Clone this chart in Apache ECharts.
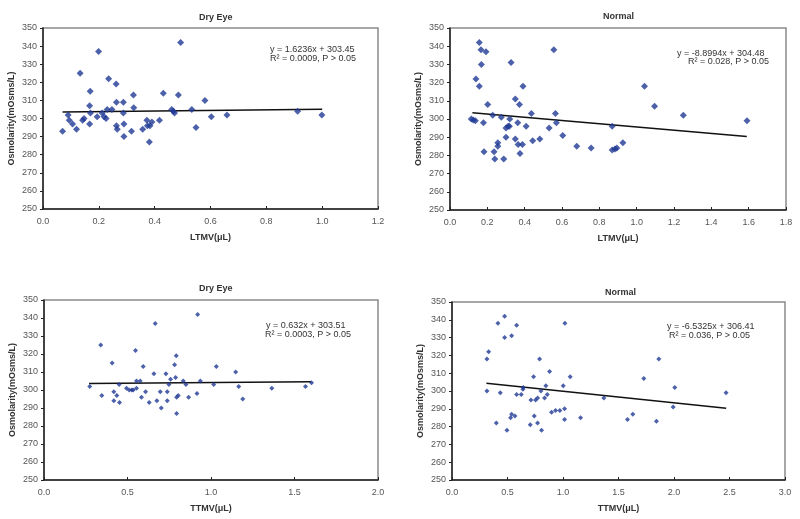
<!DOCTYPE html>
<html><head><meta charset="utf-8">
<script src="https://cdn.jsdelivr.net/npm/echarts@6/dist/echarts.min.js"></script>
<style>html,body{margin:0;padding:0;background:#fff}#c{width:800px;height:519px}</style>
</head><body><div id="c"></div>
<script>
// Panel 1: Dry Eye, LTMV
const dryLTMV_x = [0.07,0.09,0.094,0.106,0.12,0.133,0.142,0.147,0.167,0.169,0.167,0.17,0.194,0.199,0.212,0.219,0.226,0.23,0.235,0.247,0.262,0.263,0.263,0.266,0.288,0.288,0.29,0.29,0.317,0.324,0.325,0.357,0.372,0.374,0.381,0.383,0.39,0.417,0.431,0.461,0.467,0.471,0.485,0.493,0.533,0.548,0.58,0.603,0.659,0.912,0.999];
const dryLTMV_y = [293,302,299,297,294,325,299,300,297,315,307,303,301,337,303,301,300,305,322,305,319,309,296,294,309,303,297,290,293,313,306,294,299,296,287,296,298,299,314,305,304,303,313,342,305,295,310,301,302,304,302];
const dryLTMV_fit = [[0.07,303.56],[1.0,305.07]];
const dryLTMV_eq = ["y = 1.6236x + 303.45","R² = 0.0009, P > 0.05"];

// Panel 2: Normal, LTMV
const norLTMV_x = [0.114,0.125,0.136,0.139,0.157,0.157,0.166,0.168,0.179,0.182,0.193,0.202,0.229,0.236,0.24,0.256,0.256,0.275,0.288,0.3,0.3,0.311,0.318,0.32,0.327,0.35,0.35,0.363,0.365,0.372,0.375,0.388,0.391,0.408,0.436,0.443,0.481,0.531,0.556,0.565,0.57,0.604,0.679,0.756,0.869,0.869,0.884,0.894,0.926,1.042,1.096,1.25,1.591];
const norLTMV_y = [300,299.5,299,322,342,318,338,330,298,282,337,308,302,282,278,287,285,301,278,290,295,296,296,300,331,311,289,298,286,308,281,286,318,296,303,288,289,295,338,303,298,291,285,284,296,283,283.5,284,287,318,307,302,299];
const norLTMV_fit = [[0.12,303.41],[1.59,290.33]];
const norLTMV_eq = ["y = -8.8994x + 304.48","R² = 0.028, P > 0.05"];

// Panel 3: Dry Eye, TTMV
const dryTTMV_x = [0.274,0.34,0.346,0.408,0.418,0.418,0.436,0.45,0.452,0.494,0.51,0.526,0.534,0.548,0.554,0.554,0.576,0.584,0.594,0.608,0.63,0.658,0.666,0.676,0.696,0.702,0.73,0.738,0.738,0.748,0.758,0.782,0.788,0.792,0.794,0.794,0.804,0.834,0.85,0.866,0.916,0.92,0.936,1.016,1.032,1.148,1.166,1.19,1.364,1.566,1.602];
const dryTTMV_y = [302,325,297,315,299,294,297,303,293,301,300,300,300,322,305,301,305,296,313,299,293,309,337,294,299,290,309,299,294,303,306,314,307,319,296,287,297,305,303,296,298,342,305,303,313,310,302,295,301,302,304];
const dryTTMV_fit = [[0.27,303.68],[1.60,304.52]];
const dryTTMV_eq = ["y = 0.632x + 303.51","R² = 0.0003, P > 0.05"];

// Panel 4: Normal, TTMV
const norTTMV_x = [0.315,0.315,0.33,0.399,0.414,0.435,0.474,0.474,0.495,0.537,0.537,0.528,0.567,0.582,0.582,0.624,0.639,0.642,0.705,0.711,0.735,0.741,0.753,0.771,0.771,0.789,0.801,0.807,0.834,0.846,0.858,0.879,0.897,0.933,0.972,1.002,1.014,1.014,1.017,1.065,1.158,1.368,1.581,1.629,1.728,1.842,1.863,1.992,2.007,2.469];
const norTTMV_y = [318,300,322,282,338,299,342,330,278,331,287,285,286,337,298,298,301,302,281,295,308,286,295,282,296,318,300,278,296,303,298,311,288,289,289,303,290,284,338,308,285,296,284,287,307,283,318,291,302,299];
const norTTMV_fit = [[0.31,304.39],[2.47,290.27]];
const norTTMV_eq = ["y = -6.5325x + 306.41","R² = 0.036, P > 0.05"];

const titles = ["Dry Eye","Normal","Dry Eye","Normal"];
const xNames = ["LTMV(μL)","LTMV(μL)","TTMV(μL)","TTMV(μL)"];
const yName = "Osmolarity(mOsms/L)";
const xMax = [1.2,1.8,2.0,3.0];
const xStep = [0.2,0.2,0.5,0.5];

const panels = [
  {x:dryLTMV_x,y:dryLTMV_y,fit:dryLTMV_fit,eq:dryLTMV_eq},
  {x:norLTMV_x,y:norLTMV_y,fit:norLTMV_fit,eq:norLTMV_eq},
  {x:dryTTMV_x,y:dryTTMV_y,fit:dryTTMV_fit,eq:dryTTMV_eq},
  {x:norTTMV_x,y:norTTMV_y,fit:norTTMV_fit,eq:norTTMV_eq}
];

const grids = [
  {left:43,top:28,width:335,height:181},
  {left:450,top:28,width:336,height:182},
  {left:44,top:300,width:334,height:180},
  {left:452,top:302,width:333,height:178}
];
const titlePos = [[199,13],[603,12],[199,284],[605,288]];
const eqPos = [[[270,50],[270,59]],[[677,54],[688,62]],[[266,326],[265,335]],[[667,327],[669,336]]];
const symSize = [7,7,5,5];
const COL = '#1f3a93';
const FONT = 'Liberation Sans, Arial, sans-serif';

const option = {
  backgroundColor:'#fff',
  animation:false,
  grid: grids.map(g=>Object.assign({show:true,borderColor:'#8a8a8a',borderWidth:1.5,backgroundColor:'#fff'},g)),
  xAxis: grids.map((g,i)=>({
    type:'value', gridIndex:i, min:0, max:xMax[i], interval:xStep[i],
    name:xNames[i], nameLocation:'middle', nameGap:24,
    nameTextStyle:{fontFamily:FONT,fontSize:9,fontWeight:'bold',color:'#333'},
    axisLine:{show:true,lineStyle:{color:'#222',width:1.5}},
    axisTick:{show:true,inside:true,length:3,lineStyle:{color:'#222'}},
    axisLabel:{fontFamily:FONT,fontSize:9,color:'#555',margin:8,formatter:v=>v.toFixed(1)},
    splitLine:{show:false}
  })),
  yAxis: grids.map((g,i)=>({
    type:'value', gridIndex:i, min:250, max:350, interval:10,
    name:yName, nameLocation:'middle', nameGap:27,
    nameTextStyle:{fontFamily:FONT,fontSize:9,fontWeight:'bold',color:'#333'},
    axisLine:{show:true,lineStyle:{color:'#222',width:1.5}},
    axisTick:{show:true,inside:false,length:3,lineStyle:{color:'#222'}},
    axisLabel:{fontFamily:FONT,fontSize:9,color:'#555',margin:6},
    splitLine:{show:false}
  })),
  series: [],
  graphic: []
};
panels.forEach((p,i)=>{
  option.series.push({
    type:'scatter', xAxisIndex:i, yAxisIndex:i, symbol:'diamond', symbolSize:symSize[i],
    itemStyle:{color:COL}, data:p.x.map((v,k)=>[v,p.y[k]]), z:3
  });
  option.series.push({
    type:'line', xAxisIndex:i, yAxisIndex:i, data:p.fit, symbol:'none',
    lineStyle:{color:'#111',width:1.5}, z:2
  });
  option.graphic.push({type:'text',left:titlePos[i][0],top:titlePos[i][1],
    style:{text:titles[i],font:'bold 9px '+FONT,fill:'#333',textAlign:'center',textVerticalAlign:'middle'}});
  p.eq.forEach((t,k)=>{
    option.graphic.push({type:'text',x:eqPos[i][k][0],y:eqPos[i][k][1],
      style:{text:t,font:'9px '+FONT,fill:'#333',textVerticalAlign:'middle'}});
  });
});
const chart = echarts.init(document.getElementById('c'),null,{renderer:'canvas'});
chart.setOption(option);
</script></body></html>
